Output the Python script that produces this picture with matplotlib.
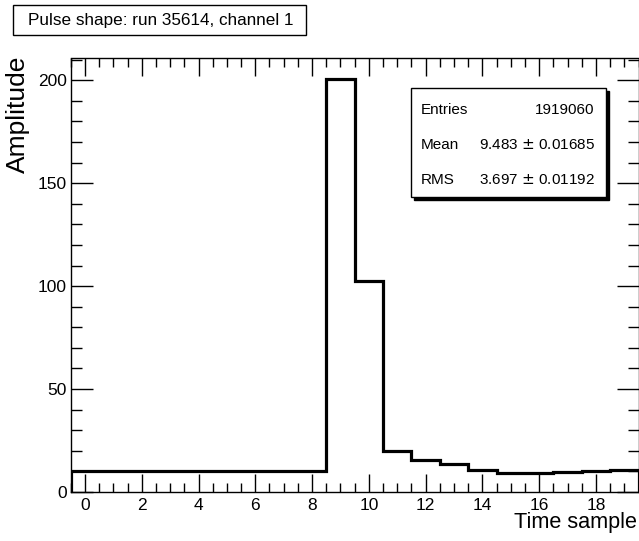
import numpy as np
import matplotlib
matplotlib.use('Agg')
import matplotlib.pyplot as plt
from matplotlib.ticker import MultipleLocator
from matplotlib.patches import Rectangle

plt.rcParams['font.family'] = ['Liberation Sans', 'DejaVu Sans']

# bin edges -0.5 .. 19.5, one bin per time sample
edges = np.arange(-0.5, 20.0, 1.0)
amplitude = [10.2, 10.2, 10.2, 10.2, 10.2, 10.2, 10.2, 10.2, 10.2, 200.6,
             102.6, 20.1, 15.6, 13.5, 10.9, 9.2, 9.4, 9.9, 10.2, 10.6]

stat_names = ['Entries', 'Mean', 'RMS']
stat_values = ['1919060', '9.483 $\\pm$ 0.01685', '3.697 $\\pm$ 0.01192']
title = 'Pulse shape: run 35614, channel 1'

W, H = 639, 541
fig = plt.figure(figsize=(W / 100, H / 100), dpi=100)
ax = fig.add_axes([70.8 / W, 1 - 492 / H, (638.5 - 70.8) / W, (492 - 58.5) / H])

ax.stairs(amplitude, edges, color='black', linewidth=2.3)
ax.set_xlim(-0.5, 19.5)
ax.set_ylim(0, 210.6)

ax.xaxis.set_major_locator(MultipleLocator(2))
ax.xaxis.set_minor_locator(MultipleLocator(0.5))
ax.yaxis.set_major_locator(MultipleLocator(50))
ax.yaxis.set_minor_locator(MultipleLocator(10))
ax.tick_params(which='both', direction='in', top=True, right=True, labelsize=12.5, width=1)
ax.tick_params(axis='x', which='major', length=13, pad=4)
ax.tick_params(axis='x', which='minor', length=6.5)
ax.tick_params(axis='y', which='major', length=16, pad=3)
ax.tick_params(axis='y', which='minor', length=8)
for s in ax.spines.values():
    s.set_linewidth(1)

fig.text(637.5 / W, 1 - 528 / H, 'Time sample', ha='right', va='baseline', fontsize=15.6)
fig.text(17.5 / W, 1 - 56 / H, 'Amplitude', ha='center', va='top', rotation=90, fontsize=19)

# title box
fig.patches.append(Rectangle((13 / W, 1 - 35 / H), (306 - 13) / W, 30 / H,
                             transform=fig.transFigure, facecolor='white',
                             edgecolor='black', linewidth=1))
fig.text(160.5 / W, 1 - 20 / H, title, ha='center', va='center', fontsize=12.3)

# stats box with shadow
bx0, by0, bx1, by1 = 411, 88, 605.5, 196.5
fig.patches.append(Rectangle(((bx0 + 3) / W, 1 - (by1 + 3) / H), (bx1 - bx0) / W, (by1 - by0) / H,
                             transform=fig.transFigure, facecolor='black',
                             edgecolor='black', linewidth=1, zorder=5))
fig.patches.append(Rectangle((bx0 / W, 1 - by1 / H), (bx1 - bx0) / W, (by1 - by0) / H,
                             transform=fig.transFigure, facecolor='white',
                             edgecolor='black', linewidth=1, zorder=6))
rows_y = [109.5, 145, 180.5]
for name, val, y in zip(stat_names, stat_values, rows_y):
    fig.text(420.5 / W, 1 - y / H, name, ha='left', va='center', fontsize=11, zorder=7)
    fig.text(594.5 / W, 1 - y / H, val, ha='right', va='center', fontsize=11, zorder=7)

fig.savefig('out.png', dpi=100)
